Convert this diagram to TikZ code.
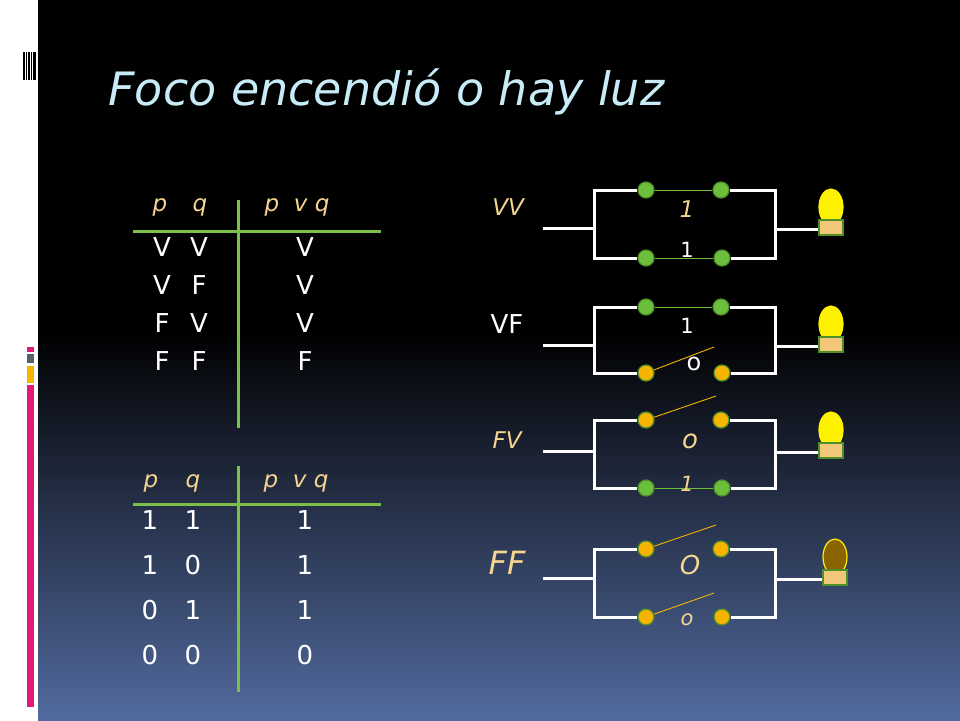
\documentclass[tikz,border=0pt]{standalone}
\usepackage{fontspec}
\setmainfont{DejaVu Sans}
\usetikzlibrary{calc}
\definecolor{titleBlue}{HTML}{C8ECF7}
\definecolor{gold}{HTML}{F5D590}
\definecolor{tabGreen}{HTML}{7CC04A}
\definecolor{dotGreen}{HTML}{6CBF3A}
\definecolor{dotOrange}{HTML}{F5B400}
\definecolor{rimGreen}{HTML}{4E8F2A}
\definecolor{baseTan}{HTML}{F2C77A}
\definecolor{bulbOff}{HTML}{8A6400}
\definecolor{barPink}{HTML}{E2187A}
\definecolor{barGray}{HTML}{56606C}
\definecolor{barGold}{HTML}{F7B500}
\tikzset{
  wire/.style={white,line width=3pt},
  on/.style={circle,fill=dotGreen,draw=rimGreen,line width=1.2pt,inner sep=0pt,minimum size=16pt},
  off/.style={circle,fill=dotOrange,draw=rimGreen,line width=1.2pt,inner sep=0pt,minimum size=16pt},
  tab/.style={white,font=\fontsize{26}{26}\selectfont},
  head/.style={gold,font=\fontsize{23}{23}\selectfont\itshape},
}
\begin{document}
\begin{tikzpicture}[x=1pt,y=-1pt]
        \useasboundingbox (0,0) rectangle (960,720);
        % background
        \fill[white] (0,0) rectangle (38,720);
        \fill[black] (38,0) rectangle (960,330);
        \shade[top color=black,bottom color={rgb,255:red,82;green,106;blue,158}] (38,330) rectangle (960,720);
        \foreach \x/\w in {23/1.5,26/1,28/2,31/1,33/3}
            \fill[black] (\x,52) rectangle ++(\w,28);
        \fill[barPink] (27,347) rectangle (34,352);
        \fill[barGray] (27,354) rectangle (34,363);
        \fill[barGold] (27,366) rectangle (34,383);
        \fill[barPink] (27,385) rectangle (34,707);

        \node[titleBlue,anchor=base west,font=\fontsize{46}{46}\selectfont\itshape] (title) at (105,105) {Foco encendió o hay luz};

        % table V/F
        \draw[tabGreen,line width=3pt] (133,231) -- (381,231);
        \draw[tabGreen,line width=3pt] (238,200) -- (238,428);
        \node[head] (h1) at (160,207) {p};
        \node[head] (h2) at (200,207) {q};
        \node[head] (h3) at (297,207) {p \ v q};
        \foreach \y/\a/\b/\c in {247/V/V/V,285/V/F/V,323/F/V/V,361/F/F/F}{
            \node[tab] at (162,\y) {\a};
            \node[tab] at (199,\y) {\b};
            \node[tab] at (305,\y) {\c};
        }

        % table 1/0
        \draw[tabGreen,line width=3pt] (133,504) -- (381,504);
        \draw[tabGreen,line width=3pt] (238,466) -- (238,692);
        \node[head] (k1) at (151,483) {p};
        \node[head] (k2) at (193,483) {q};
        \node[head] (k3) at (296,483) {p \ v q};
        \foreach \y/\a/\b/\c in {520/1/1/1,565/1/0/1,610/0/1/1,655/0/0/0}{
            \node[tab] at (150,\y) {\a};
            \node[tab] at (193,\y) {\b};
            \node[tab] at (305,\y) {\c};
        }

        % circuits: name/top/bottom/lead/top switch/bottom switch/bulb
        \foreach \n/\t/\b/\l/\s/\r/\bulb/\bx in {a/190/258/228/on/on/yellow/831,b/307/373/345/on/off/yellow/831,c/420/488/451/off/on/yellow/831,d/549/617/578/off/off/bulbOff/835}{
            \node[\s] (\n tl) at (646,\t) {};
            \node[\s] (\n tr) at (721,\t) {};
            \node[\r] (\n bl) at (646,\b) {};
            \node[\r] (\n br) at (722,\b) {};
            \coordinate (\n in) at (543,\l);
            \coordinate (\n out) at (\bx-8,\l+1);
            \draw[wire] (\n in) -- (594,\l);
            \draw[wire] (\n tl) -- (594,\t) -- (594,\b) -- (\n bl);
            \draw[wire] (\n tr) -- (775,\t) -- (775,\b) -- (\n br);
            \draw[wire] (775,\l+1) -- (\n out);
            \fill[\bulb,draw=yellow,line width=1.2pt] (\bx,\l-21) ellipse (12 and 18);
            \fill[baseTan,draw=rimGreen,line width=1.2pt] (\bx-12,\l-8) rectangle (\bx+12,\l+7);
        }
        % closed contacts
        \draw[dotGreen,line width=0.7pt] (atl) -- (atr);
        \draw[dotGreen,line width=0.7pt] (abl) -- (abr);
        \draw[dotGreen,line width=0.7pt] (btl) -- (btr);
        \draw[dotGreen,line width=0.7pt] (cbl) -- (cbr);
        % open contacts
        \draw[dotOrange,line width=0.9pt] (bbl) -- ++(68,-26);
        \draw[dotOrange,line width=0.9pt] (ctl) -- ++(70,-24);
        \draw[dotOrange,line width=0.9pt] (dtl) -- ++(70,-24);
        \draw[dotOrange,line width=0.9pt] (dbl) -- ++(68,-24);

        % labels
        \node[head] (lvv) at (508,207) {VV};
        \node[head] (lvv1) at (687,209) {1};
        \node[tab,font=\fontsize{21}{21}\selectfont] (lvv2) at (687,250) {1};
        \node[tab] (lvf) at (507,324) {VF};
        \node[tab,font=\fontsize{21}{21}\selectfont] (lvf1) at (687,326) {1};
        \node[tab,font=\fontsize{24}{24}\selectfont] (lvf2) at (694,364) {o};
        \node[head] (lfv) at (507,440) {FV};
        \node[head,font=\fontsize{26}{26}\selectfont\itshape] (lfv1) at (690,441) {o};
        \node[head,font=\fontsize{21}{21}\selectfont\itshape] (lfv2) at (687,484) {1};
        \node[head,font=\fontsize{32}{32}\selectfont\itshape] (lff) at (507,563) {FF};
        \node[head,font=\fontsize{26}{26}\selectfont\itshape] (lff1) at (690,565) {O};
        \node[head,font=\fontsize{21}{21}\selectfont\itshape] (lff2) at (687,620) {o};
\end{tikzpicture}
\end{document}
